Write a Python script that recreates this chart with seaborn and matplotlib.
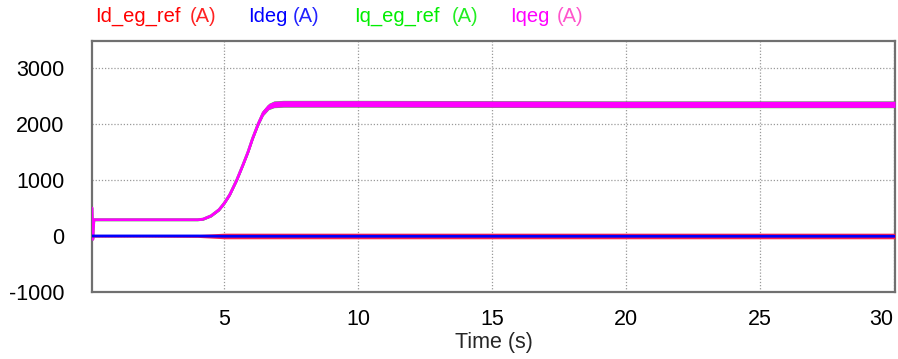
import matplotlib
matplotlib.use("Agg")
import matplotlib.pyplot as plt
import seaborn as sns
import numpy as np
import pandas as pd

# ---- data ----
t_iq = [0.05, 0.08, 0.12, 2.0, 4.0, 4.2, 4.5, 4.8, 5.0, 5.2, 5.46, 5.7, 5.88, 6.05,
        6.26, 6.45, 6.65, 6.85, 7.2, 10, 15, 20, 25, 30.05]
iq_ref = [500, -60, 290, 290, 290, 300, 360, 470, 590, 740, 1000, 1280, 1500, 1740,
          2000, 2200, 2310, 2350, 2360, 2360, 2355, 2350, 2350, 2350]
iqeg = [500, -60, 290, 290, 290, 300, 360, 470, 590, 740, 1000, 1280, 1500, 1740,
        2000, 2200, 2310, 2350, 2360, 2360, 2355, 2350, 2350, 2350]
iq_spread = [0, 0, 12, 12, 12, 12, 15, 18, 20, 22, 25, 25, 28, 30,
             35, 45, 50, 55, 55, 55, 55, 55, 55, 55]

t_id = [0.05, 2.0, 4.0, 5.0, 10, 15, 20, 25, 30.05]
id_ref = [0, 0, 0, 0, 0, 0, 0, 0, 0]
id_spread = [20, 20, 25, 50, 50, 50, 50, 50, 50]
ideg = [0, 0, 0, -5, -5, -5, -5, -5, -5]

x_ticks = [5, 10, 15, 20, 25, 30]
y_ticks = [-1000, 0, 1000, 2000, 3000]

legend_names = ["Id_eg_ref", "Ideg", "Iq_eg_ref", "Iqeg"]
legend_units = ["(A)", "(A)", "(A)", "(A)"]
legend_colors = ["#FF0000", "#0000FF", "#00EE00", "#FF00FF"]
unit_colors = ["#FF2222", "#2222FF", "#22EE22", "#FF55CC"]

# ---- plotting ----
sns.set_theme(style="white")
plt.rcParams["font.family"] = ["Liberation Sans", "DejaVu Sans"]

fig = plt.figure(figsize=(8.98, 3.59), dpi=100)
ax = fig.add_axes([92/898, 1-292/359, (895-92)/898, (292-41)/359])

df_q = pd.DataFrame({"t": t_iq, "ref": iq_ref, "eg": iqeg, "sp": iq_spread})
df_d = pd.DataFrame({"t": t_id, "ref": id_ref, "eg": ideg, "sp": id_spread})

# Iq reference (green) band + line
ax.fill_between(df_q["t"], df_q["ref"] - df_q["sp"] - 6, df_q["ref"] + df_q["sp"] + 6,
                color="#33DD33", lw=0, zorder=2)
sns.lineplot(data=df_q, x="t", y="ref", ax=ax, color="#33DD33", lw=2.0, zorder=2)
# Iqeg (magenta)
ax.fill_between(df_q["t"], df_q["eg"] - df_q["sp"], df_q["eg"] + df_q["sp"],
                color="#FF00FF", lw=0, zorder=3)
sns.lineplot(data=df_q, x="t", y="eg", ax=ax, color="#FF00FF", lw=2.0, zorder=3)
# Id reference (red)
ax.fill_between(df_d["t"], df_d["ref"] - df_d["sp"], df_d["ref"] + df_d["sp"],
                color="#FF2050", lw=0, zorder=4)
sns.lineplot(data=df_d, x="t", y="ref", ax=ax, color="#FF0000", lw=1.5, zorder=4)
# Ideg (blue)
sns.lineplot(data=df_d, x="t", y="eg", ax=ax, color="#0000FF", lw=2.0, zorder=5)

ax.set_xlim(0.05, 30.05)
ax.set_ylim(-1000, 3480)
ax.set_xticks(x_ticks)
ax.set_yticks(y_ticks)
ax.set_xticklabels([str(v) for v in x_ticks])
ax.set_yticklabels([str(v) for v in y_ticks])
ax.set_xlabel("Time (s)", fontsize=15.5, labelpad=2)
ax.set_ylabel("")
ax.tick_params(axis="x", length=0, pad=12, labelsize=15.5, colors="black")
ax.tick_params(axis="y", length=0, pad=20, labelsize=15.5, colors="black")
labs = ax.get_xticklabels()
labs[-1].set_horizontalalignment("right")

ax.grid(True, color="#999999", linestyle=(0, (1, 1.5)), linewidth=0.9)
ax.set_axisbelow(True)
for s in ax.spines.values():
    s.set_color("#707070")
    s.set_linewidth(1.6)
    s.set_visible(True)

# legend as coloured text at the top
name_x = [95, 248, 354, 510]
unit_x = [190, 293, 452, 557]
for n, u, c, uc, nx, ux in zip(legend_names, legend_units, legend_colors, unit_colors, name_x, unit_x):
    fig.text(nx/898, 1-16/359, n, color=c, fontsize=14.5, ha="left", va="center")
    fig.text(ux/898, 1-16/359, u, color=uc, fontsize=14.5, ha="left", va="center")

fig.savefig("out.png", dpi=100)
